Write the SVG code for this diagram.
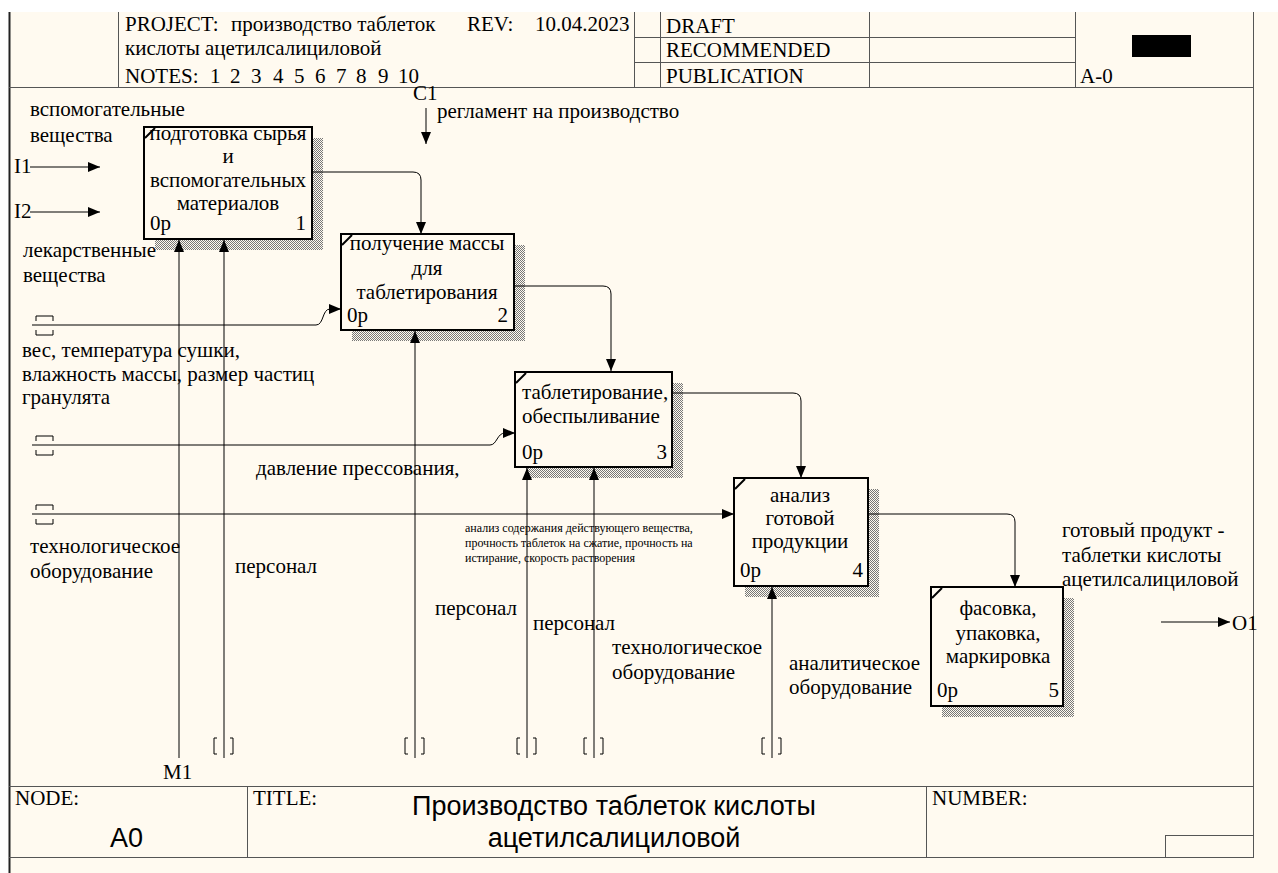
<svg xmlns="http://www.w3.org/2000/svg" width="1278" height="873" viewBox="0 0 1278 873">
<defs>
<pattern id="hatch" width="2" height="2" patternUnits="userSpaceOnUse"><rect width="2" height="2" fill="#fffaf0"/><rect width="1" height="1" fill="#777"/><rect x="1" y="1" width="1" height="1" fill="#777"/></pattern>
<marker id="arr" markerWidth="12" markerHeight="10" refX="12" refY="5" orient="auto" markerUnits="userSpaceOnUse"><path d="M0,0 L12,5 L0,10 z" fill="#000"/></marker>
</defs>
<style>
.t{font-family:"Liberation Serif","Times New Roman",serif;font-size:21px;fill:#000}
.sm{font-family:"Liberation Serif","Times New Roman",serif;font-size:12px;fill:#000}
.s{font-family:"Liberation Sans",Arial,sans-serif;font-size:27px;fill:#000}
.m{text-anchor:middle}
.e{text-anchor:end}
.box{fill:#fffaf0;stroke:#000;stroke-width:2}
.sh{fill:url(#hatch)}
.tick{stroke:#000;stroke-width:2}
.ln{fill:none;stroke:#000;stroke-width:1}
.a{marker-end:url(#arr)}
.br{fill:none;stroke:#000;stroke-width:1}
.fr{fill:none;stroke:#555;stroke-width:1}
</style>
<rect width="1278" height="873" fill="#ffffff"/>
<rect x="9" y="12" width="1269" height="861" fill="#fffaf0"/>
<g id="frame">
<line x1="9.5" y1="12" x2="9.5" y2="873" stroke="#222" stroke-width="2"/>
<line x1="1253.5" y1="12" x2="1253.5" y2="858" class="fr"/>
<line x1="9" y1="87.5" x2="1254" y2="87.5" class="fr"/>
<line x1="118.5" y1="12" x2="118.5" y2="87" class="fr"/>
<line x1="634.5" y1="12" x2="634.5" y2="87" class="fr"/>
<line x1="660.5" y1="12" x2="660.5" y2="87" class="fr"/>
<line x1="869.5" y1="12" x2="869.5" y2="87" class="fr"/>
<line x1="1075.5" y1="12" x2="1075.5" y2="87" class="fr"/>
<line x1="634" y1="37.5" x2="1075" y2="37.5" class="fr"/>
<line x1="634" y1="62.5" x2="1075" y2="62.5" class="fr"/>
<rect x="1132" y="35" width="59" height="22" fill="#000"/>
<text class="t" x="125" y="31">PROJECT:</text>
<text class="t" x="231" y="31">производство таблеток</text>
<text class="t" x="467" y="31">REV:</text>
<text class="t" x="535" y="31">10.04.2023</text>
<text class="t" x="125" y="55">кислоты ацетилсалициловой</text>
<text class="t" y="83"><tspan x="125">NOTES:</tspan><tspan x="210">1</tspan><tspan x="230">2</tspan><tspan x="251">3</tspan><tspan x="273">4</tspan><tspan x="294">5</tspan><tspan x="315">6</tspan><tspan x="336">7</tspan><tspan x="356">8</tspan><tspan x="378">9</tspan><tspan x="398">10</tspan></text>
<text class="t" x="666" y="33">DRAFT</text>
<text class="t" x="666" y="57">RECOMMENDED</text>
<text class="t" x="666" y="83">PUBLICATION</text>
<text class="t" x="1080" y="83">A-0</text>
<line x1="9" y1="786.5" x2="1254" y2="786.5" class="fr"/>
<line x1="9" y1="857.5" x2="1254" y2="857.5" class="fr"/>
<line x1="247.5" y1="786" x2="247.5" y2="858" class="fr"/>
<line x1="926.5" y1="786" x2="926.5" y2="858" class="fr"/>
<rect x="1165.5" y="835.5" width="88" height="22" class="fr"/>
<text class="t" x="15" y="805">NODE:</text>
<text class="s" x="110" y="847">A0</text>
<text class="t" x="253" y="805">TITLE:</text>
<text class="s m" x="614" y="815">Производство таблеток кислоты</text>
<text class="s m" x="614" y="847">ацетилсалициловой</text>
<text class="t" x="932" y="805">NUMBER:</text>
</g>
<g id="labels">
<text class="t" x="14" y="173">I1</text>
<text class="t" x="14" y="218">I2</text>
<text class="t" x="30" y="116">вспомогательные</text>
<text class="t" x="30" y="142">вещества</text>
<text class="t" x="23" y="257">лекарственные</text>
<text class="t" x="23" y="282">вещества</text>
<text class="t" x="413" y="100">C1</text>
<text class="t" x="437" y="118">регламент на производство</text>
<text class="t" x="22" y="357">вес, температура сушки,</text>
<text class="t" x="22" y="381">влажность массы, размер частиц</text>
<text class="t" x="22" y="404">гранулята</text>
<text class="t" x="256" y="475">давление прессования,</text>
<text class="sm" x="465" y="532">анализ содержания действующего вещества,</text>
<text class="sm" x="465" y="547">прочность таблеток на сжатие, прочность на</text>
<text class="sm" x="465" y="562">истирание, скорость растворения</text>
<text class="t" x="30" y="553">технологическое</text>
<text class="t" x="30" y="578">оборудование</text>
<text class="t" x="235" y="573">персонал</text>
<text class="t" x="435" y="615">персонал</text>
<text class="t" x="533" y="630">персонал</text>
<text class="t" x="612" y="654">технологическое</text>
<text class="t" x="612" y="679">оборудование</text>
<text class="t" x="789" y="670">аналитическое</text>
<text class="t" x="789" y="694">оборудование</text>
<text class="t" x="1062" y="537">готовый продукт -</text>
<text class="t" x="1062" y="562">таблетки кислоты</text>
<text class="t" x="1062" y="586">ацетилсалициловой</text>
<text class="t" x="1232" y="630">O1</text>
<text class="t" x="163" y="779">M1</text>
</g>
<g id="box1">
<rect class="sh" x="155" y="138" width="168" height="112"/>
<rect class="box" x="144" y="127" width="168" height="112"/>
<line class="tick" x1="145" y1="138" x2="155" y2="128"/>
<text class="t m" x="228" y="140">подготовка сырья</text>
<text class="t m" x="228" y="163">и</text>
<text class="t m" x="228" y="187">вспомогательных</text>
<text class="t m" x="228" y="210">материалов</text>
<text class="t" x="150" y="230">0р</text>
<text class="t e" x="306" y="230">1</text>
</g>
<g id="box2">
<rect class="sh" x="352" y="245" width="173" height="96"/>
<rect class="box" x="341" y="234" width="173" height="96"/>
<line class="tick" x1="342" y1="245" x2="352" y2="235"/>
<text class="t m" x="427" y="250">получение массы</text>
<text class="t m" x="427" y="275">для</text>
<text class="t m" x="427" y="299">таблетирования</text>
<text class="t" x="347" y="322">0р</text>
<text class="t e" x="508" y="322">2</text>
</g>
<g id="box3">
<rect class="sh" x="526" y="383" width="157" height="95"/>
<rect class="box" x="515" y="372" width="157" height="95"/>
<line class="tick" x1="516" y1="383" x2="526" y2="373"/>
<text class="t" x="522" y="399">таблетирование,</text>
<text class="t" x="522" y="423">обеспыливание</text>
<text class="t" x="522" y="459">0р</text>
<text class="t e" x="667" y="459">3</text>
</g>
<g id="box4">
<rect class="sh" x="745" y="489" width="134" height="108"/>
<rect class="box" x="734" y="478" width="134" height="108"/>
<line class="tick" x1="735" y1="489" x2="745" y2="479"/>
<text class="t m" x="800" y="502">анализ</text>
<text class="t m" x="800" y="525">готовой</text>
<text class="t m" x="800" y="548">продукции</text>
<text class="t" x="740" y="577">0р</text>
<text class="t e" x="863" y="577">4</text>
</g>
<g id="box5">
<rect class="sh" x="942" y="598" width="132" height="119"/>
<rect class="box" x="931" y="587" width="132" height="119"/>
<line class="tick" x1="932" y1="598" x2="942" y2="588"/>
<text class="t m" x="998" y="615">фасовка,</text>
<text class="t m" x="998" y="640">упаковка,</text>
<text class="t m" x="998" y="663">маркировка</text>
<text class="t" x="937" y="697">0р</text>
<text class="t e" x="1059" y="697">5</text>
</g>
<g id="connectors">
<path class="ln a" d="M30,167 H100"/>
<path class="ln a" d="M30,212 H100"/>
<path class="ln a" d="M426,108 V144"/>
<path class="ln a" d="M313,172 H413 Q421,172 421,180 V234"/>
<path class="ln a" d="M515,286 H603 Q611,286 611,294 V371"/>
<path class="ln a" d="M672,393 H793 Q801,393 801,401 V478"/>
<path class="ln a" d="M868,514 H1007 Q1015,514 1015,522 V587"/>
<path class="ln a" d="M1161,622 H1230"/>
<path class="ln a" d="M32,325 H316 C324,325 322,309 330,309 H341"/>
<path class="ln a" d="M32,445 H490 C497,445 497,433 505,433 H515"/>
<path class="ln a" d="M32,514 H734"/>
<path class="ln a" d="M179,758 V240"/>
<path class="ln a" d="M224,758 V240"/>
<path class="ln a" d="M415,758 V331"/>
<path class="ln a" d="M527,758 V468"/>
<path class="ln a" d="M594,758 V468"/>
<path class="ln a" d="M772,758 V587"/>
<path class="br" d="M36,321 V316 H53 V321 M36,330 V335 H53 V330"/>
<path class="br" d="M36,441 V436 H53 V441 M36,450 V455 H53 V450"/>
<path class="br" d="M36,510 V505 H53 V510 M36,519 V524 H53 V519"/>
<path class="br" d="M217,738 H214 V754 H217 M230,738 H233 V754 H230"/>
<path class="br" d="M408,738 H405 V754 H408 M421,738 H424 V754 H421"/>
<path class="br" d="M520,738 H517 V754 H520 M533,738 H536 V754 H533"/>
<path class="br" d="M587,738 H584 V754 H587 M600,738 H603 V754 H600"/>
<path class="br" d="M765,738 H762 V754 H765 M778,738 H781 V754 H778"/>
</g>
</svg>
